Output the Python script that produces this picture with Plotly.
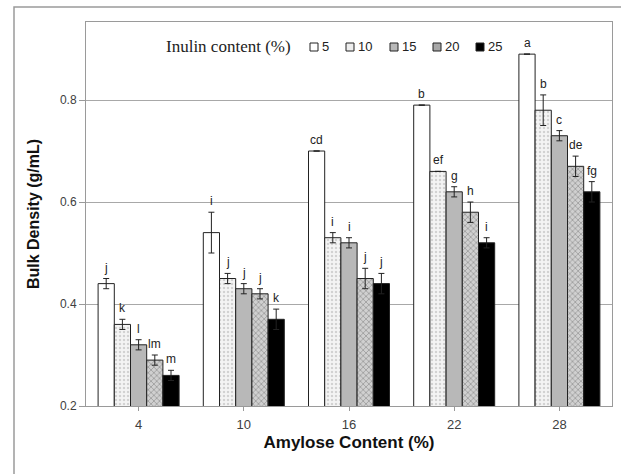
import plotly.graph_objects as go

amylose = ["4", "10", "16", "22", "28"]
inulin = ["5", "10", "15", "20", "25"]

density = {
    "5":  [0.44, 0.54, 0.70, 0.79, 0.89],
    "10": [0.36, 0.45, 0.53, 0.66, 0.78],
    "15": [0.32, 0.43, 0.52, 0.62, 0.73],
    "20": [0.29, 0.42, 0.45, 0.58, 0.67],
    "25": [0.26, 0.37, 0.44, 0.52, 0.62],
}
errors = {
    "5":  [0.01, 0.04, None, None, None],
    "10": [0.01, 0.01, 0.01, None, 0.03],
    "15": [0.01, 0.01, 0.01, 0.01, 0.01],
    "20": [0.01, 0.01, 0.02, 0.02, 0.02],
    "25": [0.01, 0.02, 0.02, 0.01, 0.02],
}
letters = {
    "5":  ["j", "i", "cd", "b", "a"],
    "10": ["k", "j", "i", "ef", "b"],
    "15": ["l", "j", "i", "g", "c"],
    "20": ["lm", "j", "j", "h", "de"],
    "25": ["m", "k", "j", "i", "fg"],
}
legend_title = "Inulin content (%)"

styles = {
    "5":  dict(color="white"),
    "10": dict(color="#f4f4f4", pattern=dict(shape=".", fgcolor="#b0b0b0", bgcolor="#f4f4f4", size=4, solidity=0.3)),
    "15": dict(color="#b8b8b8"),
    "20": dict(color="#c8c8c8", pattern=dict(shape="x", fgcolor="#707070", bgcolor="#d0d0d0", size=4, solidity=0.4)),
    "25": dict(color="black"),
}
legend_fill = {"5": "white", "10": "#eeeeee", "15": "#b8b8b8", "20": "#a8a8a8", "25": "black"}

# pixel geometry of the plot area (for the hand-placed legend)
L, R, T, B, W, H = 86, 9, 22, 68, 621, 474
PW, PH = W - L - R, H - T - B
def px(x):
    return (x - L) / PW
def py(y):
    return (H - B - y) / PH

bargap = 0.23
fig = go.Figure()
for s in inulin:
    fig.add_trace(go.Bar(
        x=list(range(len(amylose))), y=density[s], name=s, showlegend=False,
        marker=dict(line=dict(color="#222222", width=1), **styles[s]),
        error_y=dict(type="data", array=errors[s], visible=True,
                     color="#222222", thickness=1, width=3),
    ))

n = len(inulin)
bw = (1 - bargap) / n
annotations = []
shapes = [dict(type="rect", xref="paper", yref="paper",
               x0=px(14), x1=px(700), y0=py(560), y1=py(7),
               line=dict(color="#9a9a9a", width=1.5), layer="below")]
for i, s in enumerate(inulin):
    off = -(1 - bargap) / 2 + (i + 0.5) * bw
    for j in range(len(amylose)):
        e = errors[s][j] or 0
        annotations.append(dict(
            x=j + off, y=density[s][j] + e, text=letters[s][j],
            showarrow=False, yanchor="bottom", yshift=2,
            font=dict(family="Liberation Sans, Arial", size=12, color="#222222"),
        ))

# legend drawn inside the plot area
annotations.append(dict(
    xref="paper", yref="paper", x=px(164), y=py(47), xanchor="left", yanchor="middle",
    text=legend_title, showarrow=False,
    font=dict(family="Liberation Serif, Times New Roman", size=17, color="#222222"),
))
leg_x = [314, 350, 394, 437, 480]
for s, cx in zip(inulin, leg_x):
    shapes.append(dict(type="rect", xref="paper", yref="paper",
                       x0=px(cx - 4), x1=px(cx + 4), y0=py(51), y1=py(43),
                       fillcolor=legend_fill[s], line=dict(color="#222222", width=1)))
    annotations.append(dict(
        xref="paper", yref="paper", x=px(cx + 6), y=py(47), xanchor="left", yanchor="middle",
        text=s, showarrow=False,
        font=dict(family="Liberation Sans, Arial", size=13, color="#222222"),
    ))

fig.update_layout(
    width=W, height=H,
    margin=dict(l=L, r=R, t=T, b=B),
    paper_bgcolor="white", plot_bgcolor="white",
    barmode="group", bargap=bargap, bargroupgap=0,
    font=dict(family="Liberation Sans, Arial", size=12, color="#404040"),
    annotations=annotations, shapes=shapes, showlegend=False,
)
fig.update_xaxes(
    tickmode="array", tickvals=list(range(len(amylose))), ticktext=amylose,
    range=[-0.5, len(amylose) - 0.5], automargin=False,
    showline=True, linecolor="#9a9a9a", mirror=True,
    ticks="outside", ticklen=4, tickcolor="#9a9a9a", ticklabelstandoff=2,
    title=dict(text="<b>Amylose Content (%)</b>", font=dict(size=17, color="#111111"), standoff=5),
    tickfont=dict(size=13, color="#404040"),
    showgrid=False,
)
fig.update_yaxes(
    range=[0.2, 0.953], tickvals=[0.2, 0.4, 0.6, 0.8], ticktext=["0.2", "0.4", "0.6", "0.8"],
    showline=True, linecolor="#9a9a9a", mirror=True, automargin=False,
    ticks="outside", ticklen=6, tickcolor="#9a9a9a",
    showgrid=True, gridcolor="#a8a8a8", gridwidth=1.2,
    zeroline=False,
    title=dict(text="<b>Bulk Density (g/mL)</b>", font=dict(size=16, color="#111111"), standoff=16),
    tickfont=dict(size=12, color="#404040"),
)
fig.write_html(
    "out.html",
    config={"displayModeBar": False},
    post_script="document.body.style.margin='0';document.body.style.overflow='hidden';",
)
